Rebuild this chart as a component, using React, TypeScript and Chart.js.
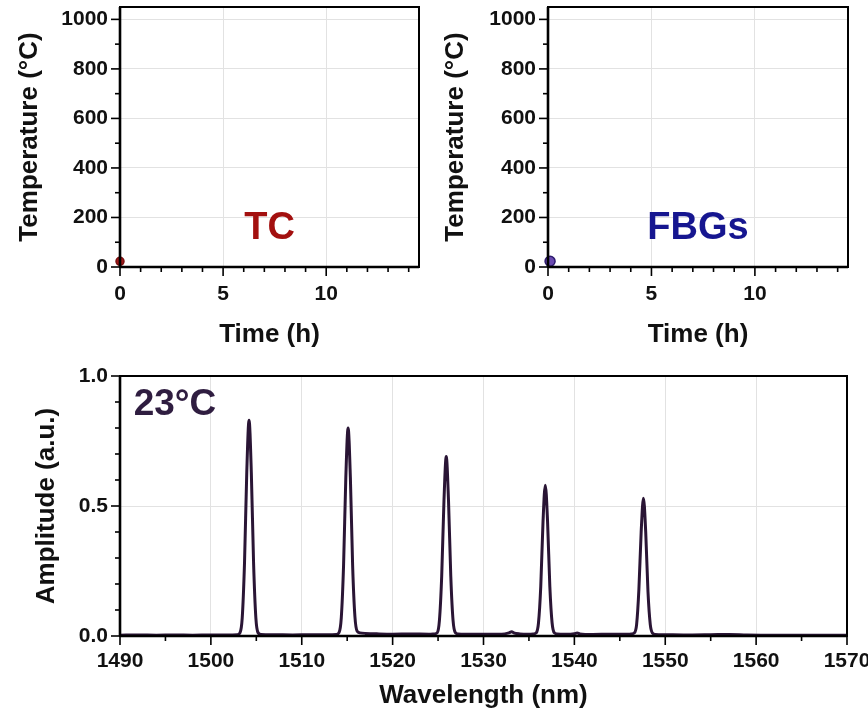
import React, { useEffect, useRef } from 'react';
import { Chart, registerables } from 'chart.js';

Chart.register(...registerables);

const FONT = '"Liberation Sans", Arial, Helvetica, sans-serif';

// ---- Top panels (temperature vs time) ----
const timeTicks = [0, 5, 10];
const tempTicks = [0, 200, 400, 600, 800, 1000];
const tcTime = [0];
const tcTemp = [23];
const fbgTime = [0.1];
const fbgTemp = [23];
const tcLabel = 'TC';
const fbgLabel = 'FBGs';

// ---- Bottom panel (reflection spectrum) ----
const wavelengthTicks = [1490, 1500, 1510, 1520, 1530, 1540, 1550, 1560, 1570];
const amplitudeTicks = [0, 0.5, 1.0];
const spectrumLabel = '23°C';
const wavelength = [
  1490, 1492, 1494, 1496, 1498, 1500, 1502, 1502.9, 1503.2, 1503.45, 1503.7, 1503.95, 1504.2,
  1504.45, 1504.7, 1504.95, 1505.2, 1505.5, 1507, 1509, 1511, 1513, 1513.8, 1514.1, 1514.35,
  1514.6, 1514.85, 1515.1, 1515.35, 1515.6, 1515.85, 1516.1, 1516.4, 1517, 1518.5, 1520, 1522,
  1524, 1524.6, 1524.9, 1525.15, 1525.4, 1525.65, 1525.9, 1526.15, 1526.4, 1526.65, 1526.9,
  1527.2, 1528, 1530, 1532, 1532.8, 1533.1, 1533.4, 1534, 1535, 1535.5, 1535.8, 1536.05,
  1536.3, 1536.55, 1536.8, 1537.05, 1537.3, 1537.55, 1537.8, 1538.1, 1539, 1540.0, 1540.3,
  1540.6, 1542, 1544, 1546, 1546.3, 1546.6, 1546.85, 1547.1, 1547.35, 1547.6, 1547.85, 1548.1,
  1548.35, 1548.6, 1548.9, 1550, 1552, 1555, 1557, 1559, 1562, 1566, 1570,
];
const amplitude = [
  0.003, 0.004, 0.003, 0.004, 0.003, 0.004, 0.004, 0.005, 0.012, 0.07, 0.28, 0.63, 0.83,
  0.63, 0.28, 0.07, 0.012, 0.006, 0.005, 0.004, 0.005, 0.005, 0.006, 0.013, 0.07,
  0.27, 0.61, 0.80, 0.61, 0.27, 0.075, 0.018, 0.012, 0.010, 0.008, 0.007, 0.008,
  0.007, 0.008, 0.012, 0.06, 0.23, 0.52, 0.69, 0.52, 0.23, 0.06, 0.013,
  0.008, 0.007, 0.007, 0.007, 0.012, 0.016, 0.011, 0.008, 0.007, 0.008, 0.012, 0.05,
  0.19, 0.44, 0.58, 0.44, 0.19, 0.05, 0.012, 0.008, 0.007, 0.009, 0.012,
  0.008, 0.006, 0.007, 0.007, 0.008, 0.012, 0.045, 0.18, 0.40, 0.53, 0.40, 0.17,
  0.045, 0.011, 0.006, 0.005, 0.004, 0.005, 0.006, 0.004, 0.003, 0.003, 0.003,
];

const GRID = '#e2e2e2';
const INK = '#111111';

// Frame + outward major/minor ticks
const frameTicks = {
  id: 'frameTicks',
  afterDatasetsDraw(chart: any, _args: any, opts: any) {
    const { ctx, chartArea: a } = chart;
    const xs = chart.scales.x;
    const ys = chart.scales.y;
    ctx.save();
    ctx.strokeStyle = '#000';
    const eps = 1e-9;
    const isMajor = (v: number, list: number[]) => list.some((m) => Math.abs(m - v) < 1e-6);
    ctx.lineWidth = 1.6;
    for (let i = 0; ; i++) {
      const v = xs.min + i * opts.xMinor;
      if (v > xs.max + eps) break;
      const px = xs.getPixelForValue(v);
      const len = isMajor(v, opts.xMajor) ? 9 : 5;
      ctx.beginPath();
      ctx.moveTo(px, a.bottom);
      ctx.lineTo(px, a.bottom + len);
      ctx.stroke();
    }
    for (let i = 0; ; i++) {
      const v = ys.min + i * opts.yMinor;
      if (v > ys.max + eps) break;
      const py = ys.getPixelForValue(v);
      const len = isMajor(v, opts.yMajor) ? 9 : 5;
      ctx.beginPath();
      ctx.moveTo(a.left, py);
      ctx.lineTo(a.left - len, py);
      ctx.stroke();
    }
    ctx.lineWidth = 2;
    ctx.strokeRect(a.left, a.top, a.right - a.left, a.bottom - a.top);
    ctx.lineWidth = 2.6;
    ctx.beginPath();
    ctx.moveTo(a.left, a.bottom);
    ctx.lineTo(a.right, a.bottom);
    ctx.moveTo(a.left, a.top);
    ctx.lineTo(a.left, a.bottom);
    ctx.stroke();
    if (opts.text) {
      ctx.fillStyle = opts.color;
      ctx.font = `bold ${opts.size}px ${FONT}`;
      ctx.textAlign = opts.align;
      ctx.textBaseline = 'alphabetic';
      ctx.fillText(opts.text, xs.getPixelForValue(opts.tx), ys.getPixelForValue(opts.ty));
    }
    ctx.restore();
  },
};

function fixAxis(size: number, horizontal: boolean) {
  return (scale: any) => {
    if (horizontal) scale.height = size;
    else scale.width = size;
    scale.paddingLeft = 0;
    scale.paddingRight = 0;
    scale.paddingTop = 0;
    scale.paddingBottom = 0;
  };
}

const TICK_FONT = { family: FONT, size: 21, weight: 'bold' as const };
const TITLE_FONT = { family: FONT, size: 26, weight: 'bold' as const };
const plain = (v: any) => String(v);

function tempConfig(
  xs: number[], ys: number[], color: string, border: string, radius: number,
  label: string, labelColor: string, yWidth: number, titlePad: number, padRight: number,
) {
  return {
    type: 'scatter' as const,
    data: {
      datasets: [
        {
          data: xs.map((x, i) => ({ x, y: ys[i] })),
          backgroundColor: color,
          borderColor: border,
          borderWidth: 1.5,
          pointRadius: radius,
          clip: false,
        },
      ],
    },
    plugins: [frameTicks],
    options: {
      responsive: false,
      animation: false as const,
      layout: { padding: { left: 0, right: padRight, top: 7, bottom: 0 } },
      plugins: {
        legend: { display: false },
        tooltip: { enabled: false },
        frameTicks: {
          xMinor: 1, yMinor: 100, xMajor: timeTicks, yMajor: tempTicks,
          text: label, color: labelColor, size: 38, align: 'center', tx: 7.25, ty: 113,
        },
      },
      scales: {
        x: {
          type: 'linear' as const,
          min: 0,
          max: 14.5,
          afterBuildTicks: (s: any) => { s.ticks = timeTicks.map((v) => ({ value: v })); },
          afterFit: fixAxis(83, true),
          grid: { color: GRID, lineWidth: 1, drawTicks: false },
          border: { display: false },
          ticks: { color: INK, padding: 15, font: TICK_FONT, autoSkip: false, maxRotation: 0, callback: plain },
          title: { display: true, text: 'Time (h)', color: INK, padding: { top: 7, bottom: 0 }, font: TITLE_FONT },
        },
        y: {
          type: 'linear' as const,
          min: 0,
          max: 1050,
          afterBuildTicks: (s: any) => { s.ticks = tempTicks.map((v) => ({ value: v })); },
          afterFit: fixAxis(yWidth, false),
          grid: { color: GRID, lineWidth: 1, drawTicks: false },
          border: { display: false },
          ticks: { color: INK, padding: 12, font: TICK_FONT, autoSkip: false, callback: plain },
          title: { display: true, text: 'Temperature (°C)', color: INK, padding: { top: titlePad, bottom: 0 }, font: TITLE_FONT },
        },
      },
    },
  };
}

function spectrumConfig() {
  return {
    type: 'line' as const,
    data: {
      datasets: [
        {
          data: wavelength.map((x, i) => ({ x, y: amplitude[i] })),
          borderColor: '#2a1535',
          borderWidth: 3,
          pointRadius: 0,
          cubicInterpolationMode: 'monotone' as const,
          borderJoinStyle: 'round' as const,
          fill: false,
        },
      ],
    },
    plugins: [frameTicks],
    options: {
      responsive: false,
      animation: false as const,
      layout: { padding: { left: 0, right: 21, top: 26, bottom: 0 } },
      plugins: {
        legend: { display: false },
        tooltip: { enabled: false },
        frameTicks: {
          xMinor: 5, yMinor: 0.1, xMajor: wavelengthTicks, yMajor: amplitudeTicks,
          text: spectrumLabel, color: '#2f1d40', size: 37, align: 'left', tx: 1491.5, ty: 0.85,
        },
      },
      scales: {
        x: {
          type: 'linear' as const,
          min: 1490,
          max: 1570,
          afterBuildTicks: (s: any) => { s.ticks = wavelengthTicks.map((v) => ({ value: v })); },
          afterFit: fixAxis(75, true),
          grid: { color: GRID, lineWidth: 1, drawTicks: false },
          border: { display: false },
          ticks: { color: INK, padding: 13, font: TICK_FONT, autoSkip: false, maxRotation: 0, callback: plain },
          title: { display: true, text: 'Wavelength (nm)', color: INK, padding: { top: 5, bottom: 0 }, font: TITLE_FONT },
        },
        y: {
          type: 'linear' as const,
          min: 0,
          max: 1,
          afterBuildTicks: (s: any) => { s.ticks = amplitudeTicks.map((v) => ({ value: v })); },
          afterFit: fixAxis(120, false),
          grid: { color: GRID, lineWidth: 1, drawTicks: false },
          border: { display: false },
          ticks: {
            color: INK, padding: 12, font: TICK_FONT, autoSkip: false,
            callback: (v: any) => Number(v).toFixed(1),
          },
          title: { display: true, text: 'Amplitude (a.u.)', color: INK, padding: { top: 31, bottom: 0 }, font: TITLE_FONT },
        },
      },
    },
  };
}

export default function App() {
  const r1 = useRef<HTMLCanvasElement>(null);
  const r2 = useRef<HTMLCanvasElement>(null);
  const r3 = useRef<HTMLCanvasElement>(null);

  useEffect(() => {
    const charts: Chart[] = [];
    if (r1.current) {
      charts.push(new Chart(r1.current, tempConfig(tcTime, tcTemp, '#a01818', '#7a1010', 4, tcLabel, '#a3100f', 120, 14, 15) as any));
    }
    if (r2.current) {
      charts.push(new Chart(r2.current, tempConfig(fbgTime, fbgTemp, '#6a4ab0', '#2d1b6e', 5, fbgLabel, '#161690', 114, 6, 20) as any));
    }
    if (r3.current) {
      charts.push(new Chart(r3.current, spectrumConfig() as any));
    }
    return () => charts.forEach((c) => c.destroy());
  }, []);

  return (
    <div style={{ position: 'fixed', left: 0, top: 0, width: 868, height: 711, background: '#fff', overflow: 'hidden' }}>
      <canvas ref={r1} width={434} height={350} style={{ position: 'absolute', left: 0, top: 0 }} />
      <canvas ref={r2} width={434} height={350} style={{ position: 'absolute', left: 434, top: 0 }} />
      <canvas ref={r3} width={868} height={361} style={{ position: 'absolute', left: 0, top: 350 }} />
    </div>
  );
}
